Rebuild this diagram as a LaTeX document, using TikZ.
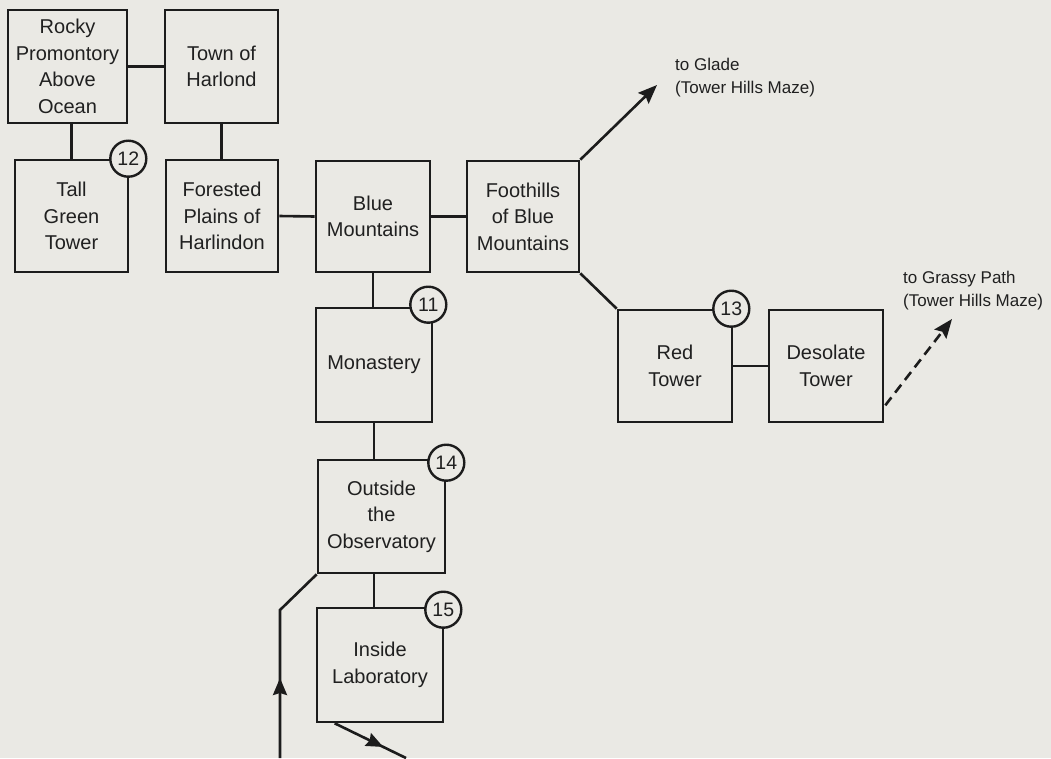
\documentclass[tikz,border=0pt]{standalone}
\usepackage{fontspec}
\setmainfont{Liberation Sans}
\usetikzlibrary{arrows.meta,calc,decorations.markings}
\definecolor{paper}{RGB}{234,233,228}
\definecolor{ink}{RGB}{28,28,28}
\definecolor{txt}{RGB}{32,32,32}
\begin{document}
\begin{tikzpicture}[x=1pt,y=-1pt,
  room/.style args={#1x#2}{draw=ink, line width=2.6pt, fill=paper, align=center,
    text=txt, font=\fontsize{20}{26.5}\selectfont, inner sep=0pt,
    minimum width=#1pt, minimum height=#2pt},
  tag/.style={circle, draw=ink, line width=2.4pt, fill=paper, minimum size=36pt,
    inner sep=0pt, text=txt, font=\fontsize{19.5}{20}\selectfont},
  link/.style={draw=ink, line width=2.6pt},
  lbl/.style={align=left, inner sep=0pt, text=txt, font=\fontsize{17}{23}\selectfont},
  tip/.style={-{Stealth[length=19pt,width=15pt,inset=3pt]}},
  midtip/.style={postaction={decorate}, decoration={markings,
    mark=at position #1 with {\arrow{Stealth[length=17pt,width=14pt,inset=2pt]}}}}]

% paper
\fill[paper] (0,0) rectangle (1051,758);
\useasboundingbox (0,0) rectangle (1051,758);

% rooms
\node[room=119x113] (rocky)     at (67.5,66.5) {Rocky\\Promontory\\Above\\Ocean};
\node[room=113x113] (town)      at (221.5,66.5) {Town of\\Harlond};
\node[room=113x112] (tall)      at (71.5,216) {Tall\\Green\\Tower};
\node[room=112x112] (forested)  at (222,216) {Forested\\Plains of\\Harlindon};
\node[room=114x111] (blue)      at (373,216.5) {Blue\\Mountains};
\node[room=112x111] (foothills) at (523,216.5) {Foothills\\of Blue\\Mountains};
\node[room=116x114] (monastery) at (374,365) {Monastery};
\node[room=127x113] (outside)   at (381.5,516.5) {Outside\\the\\Observatory};
\node[room=126x114] (inside)    at (380,665) {Inside\\Laboratory};
\node[room=114x112] (red)       at (675,366) {Red\\Tower};
\node[room=114x112] (desolate)  at (826,366) {Desolate\\Tower};

% free ends
\coordinate (gladetip)  at (657,85);
\coordinate (grassytip) at (952,319);
\coordinate (leftfoot)  at (280,758);
\coordinate (leftknee)  at (280,610);
\coordinate (labfoot)   at (406,758);

% connections
\draw[link] (rocky.east) -- (town.west);
\draw[link] (tall.north) -- (tall.north |- rocky.south);
\draw[link] (town.south) -- (town.south |- forested.north);
\draw[link] (forested.east) -- (blue.west);
\draw[link] (blue.east) -- (foothills.west);
\draw[link] (blue.south) -- (blue.south |- monastery.north);
\draw[link] (monastery.south) -- (monastery.south |- outside.north);
\draw[link] (monastery.south |- outside.south) -- (monastery.south |- inside.north);
\draw[link] (foothills.south east) -- (red.north west);
\draw[link] (red.east) -- (desolate.west);
\draw[link, tip] (foothills.north east) -- (gladetip);
\draw[link, dash pattern=on 10pt off 6pt, tip] ($(desolate.south east)+(1,-18)$) -- (grassytip);
\draw[link, midtip=80pt] (leftfoot) -- (leftknee) -- (outside.south west);
\draw[link, midtip=54pt] ($(inside.south west)+(19,0)$) -- (labfoot);

% numbered markers
\node[tag] (n12) at ($(tall.north east)+(-1,0)$) {12};
\node[tag] (n11) at ($(monastery.north east)+(-5,-2)$) {11};
\node[tag] (n13) at ($(red.north east)+(-2,0)$) {13};
\node[tag] (n14) at ($(outside.north east)+(0,4)$) {14};
\node[tag] (n15) at ($(inside.north east)+(-1,3)$) {15};

% exits
\node[lbl, anchor=north west] (glade)  at (675,58)  {to Glade\\(Tower Hills Maze)};
\node[lbl, anchor=north west] (grassy) at (903,271) {to Grassy Path\\(Tower Hills Maze)};
\end{tikzpicture}
\end{document}
